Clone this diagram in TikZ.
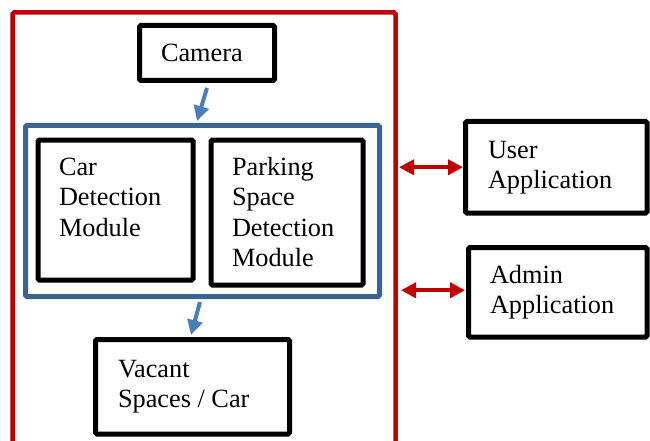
\documentclass[tikz,border=0pt]{standalone}
\usepackage{fontspec}
\setmainfont{Liberation Serif}
\usetikzlibrary{arrows.meta,calc}
\definecolor{fred}{HTML}{C00000}
\definecolor{fblue}{HTML}{3B6496}
\definecolor{ablue}{HTML}{4A7EBB}
\newcommand{\tstrut}{\rule{0pt}{21pt}}
\begin{document}
\begin{tikzpicture}[x=1pt,y=-1pt,
  box/.style={draw=black,line width=5pt,rounded corners=1.5pt,inner sep=0pt,outer sep=0pt,anchor=north west},
  lbl/.style={anchor=north west,inner sep=0pt,outer sep=0pt,align=left,font=\fontsize{26.3}{30.5}\selectfont},
  barrow/.style={draw=ablue,line width=4pt,-{Triangle[length=15pt,width=15pt]}},
  rarrow/.style={draw=fred,line width=4pt,{Triangle[length=15pt,width=15pt]}-{Triangle[length=15pt,width=15pt]}}]
\useasboundingbox (0,0) rectangle (650,441);
\clip (0,0) rectangle (650,441);
% frames
\node[box,draw=fred,line width=4.5pt,minimum width=383pt,minimum height=470pt] (frame) at (12.5,12.5) {};
\node[box,draw=fblue,minimum width=354pt,minimum height=171pt] (grp) at (25.5,125.5) {};
% boxes
\node[box,minimum width=135pt,minimum height=55pt] (cam) at (139.5,25.5) {};
\node[box,minimum width=155pt,minimum height=140pt] (car) at (38,140) {};
\node[box,minimum width=152pt,minimum height=145pt] (park) at (211,140) {};
\node[box,minimum width=194pt,minimum height=94.5pt] (vac) at (95.5,339.5) {};
\node[box,minimum width=181.5pt,minimum height=91.5pt] (user) at (465.5,121.5) {};
\node[box,minimum width=178.5pt,minimum height=89.5pt] (admin) at (468.5,247.5) {};
% labels
\node[lbl] (camt) at (161,41) {\tstrut Camera};
\node[lbl] (cart) at (59,154) {\tstrut Car\\Detection\\Module};
\node[lbl] (parkt) at (232,154) {\tstrut Parking\\Space\\Detection\\Module};
\node[lbl] (vact) at (118,356) {\tstrut Vacant\\Spaces / Car};
\node[lbl] (usert) at (488,137) {\tstrut User\\Application};
\node[lbl] (admint) at (490,262) {\tstrut Admin\\Application};
% arrows
\draw[barrow] ($(cam.south)+(0,7.5)$) -- ($(grp.north)+(-5.5,-4.5)$);
\draw[barrow] ($(grp.south)+(-2.5,5.5)$) -- ($(vac.north)+(-1.5,-4.5)$);
\draw[rarrow] ($(frame.east |- user.west)+(3.5,0)$) -- ($(user.west)+(-2.5,0)$);
\draw[rarrow] ($(frame.east |- admin.west)+(5.5,-2)$) -- ($(admin.west)+(-3.5,-2)$);
\end{tikzpicture}
\end{document}
